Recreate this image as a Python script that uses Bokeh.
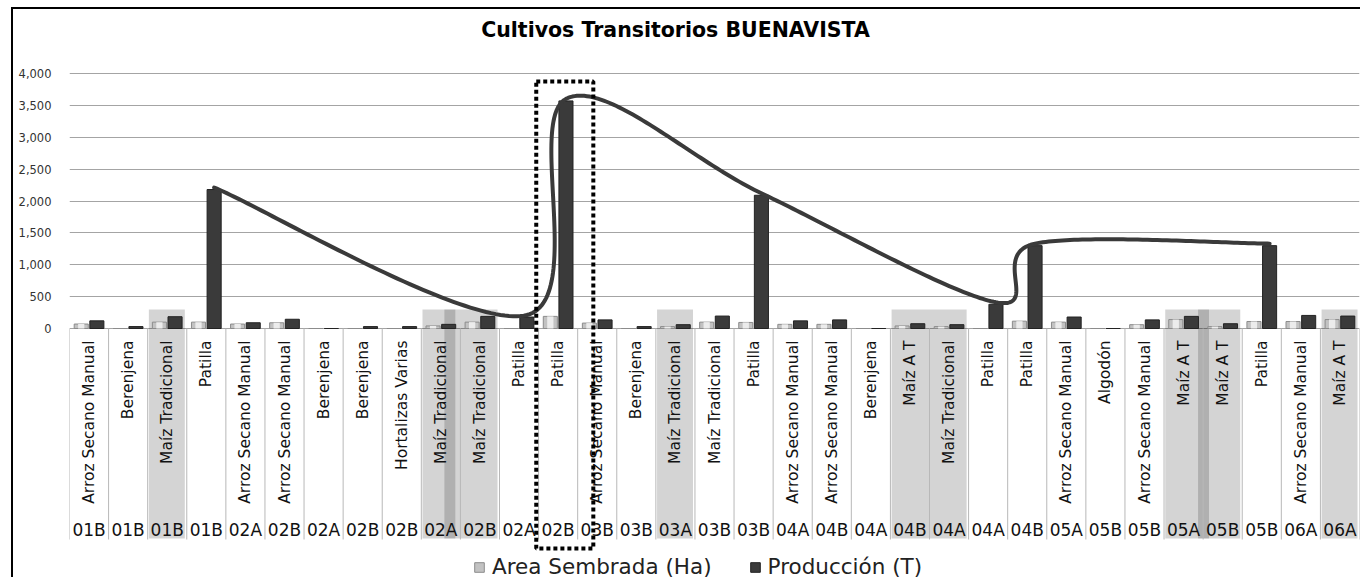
import numpy as np
from bokeh.plotting import figure
from bokeh.models import (Range1d, FixedTicker, NumeralTickFormatter, Legend, LegendItem,
                          Label, BoxAnnotation, ColumnDataSource)
from bokeh.core.properties import value
from bokeh.embed import file_html
from bokeh.resources import INLINE

# ---------------- data ----------------
periods = ["01B", "01B", "01B", "01B", "02A", "02B", "02A", "02B", "02B", "02A", "02B",
           "02A", "02B", "03B", "03B", "03A", "03B", "03B", "04A", "04B", "04A", "04B",
           "04A", "04A", "04B", "05A", "05B", "05B", "05A", "05B", "05B", "06A", "06A"]
crops = ["Arroz Secano Manual", "Berenjena", "Maíz Tradicional", "Patilla",
         "Arroz Secano Manual", "Arroz Secano Manual", "Berenjena", "Berenjena",
         "Hortalizas Varias", "Maíz Tradicional", "Maíz Tradicional", "Patilla", "Patilla",
         "Arroz Secano Manual", "Berenjena", "Maíz Tradicional", "Maíz Tradicional", "Patilla",
         "Arroz Secano Manual", "Arroz Secano Manual", "Berenjena", "Maíz A T",
         "Maíz Tradicional", "Patilla", "Patilla", "Arroz Secano Manual", "Algodón",
         "Arroz Secano Manual", "Maíz A T", "Maíz A T", "Patilla", "Arroz Secano Manual",
         "Maíz A T"]
area = [70, 0, 100, 100, 70, 90, 0, 0, 0, 40, 100, 0, 190, 85, 0, 30, 100, 95, 65, 65, 0,
        40, 30, 0, 115, 100, 0, 60, 140, 30, 110, 110, 140]
prod = [120, 30, 185, 2180, 90, 145, 0, 30, 30, 65, 190, 180, 3570, 135, 30, 60, 195, 2090,
        120, 135, 0, 75, 60, 380, 1300, 180, 0, 135, 190, 75, 1300, 205, 195]
y_ticks = [0, 500, 1000, 1500, 2000, 2500, 3000, 3500, 4000]
highlight_groups = [(2, 2), (9, 10), (15, 15), (21, 22), (28, 29), (32, 32)]
overlap_strips = [9.23, 28.51]
boxed_category = 12
curve_crop = "Patilla"

# ---------------- layout helpers (page pixel -> data) ----------------
PX_ZERO, PX_TOP_TICK = 328, 73
K = 4000 / (PX_ZERO - PX_TOP_TICK)          # data units per pixel
def y_of(px):
    return (PX_ZERO - px) * K

n = len(crops)
idx = list(range(n))
CW = 1290 / n
def x_of(px):
    return (px - 69) / CW - 0.5

FONT = "DejaVu Sans"
ML, MT = 11, 7          # outer frame position
CANVAS_X0, CANVAS_Y0 = ML + 2, MT + 2
W, H = 1362 - CANVAS_X0, 579 - CANVAS_Y0

p = figure(width=W, height=H, output_backend="svg", toolbar_location=None,
           x_range=Range1d(-0.5, n - 0.5), y_range=Range1d(y_of(579), y_of(CANVAS_Y0)),
           min_border_left=69 - CANVAS_X0, min_border_right=1362 - 1359,
           min_border_top=0, min_border_bottom=0)
p.styles = {"margin-left": f"{ML}px", "margin-top": f"{MT}px",
            "border-left": "2px solid #000", "border-top": "2px solid #000"}
p.outline_line_color = None
p.background_fill_color = "white"
p.border_fill_color = "white"
p.xaxis.visible = False
p.xgrid.visible = False

ya = p.yaxis[0]
ya.ticker = FixedTicker(ticks=y_ticks)
ya.formatter = NumeralTickFormatter(format="0,0")
ya.axis_line_color = None
ya.major_tick_line_color = None
ya.minor_tick_line_color = None
ya.major_label_standoff = 12
ya.major_label_text_font = FONT
ya.major_label_text_font_size = "11.5px"
ya.major_label_text_color = "#333333"
p.ygrid.ticker = FixedTicker(ticks=y_ticks)
p.ygrid.grid_line_color = "#a4a4a4"
p.ygrid.grid_line_width = 1

# highlight shading behind labels
hl_left = [a - 0.47 for a, b in highlight_groups]
hl_right = [b + 0.45 for a, b in highlight_groups]
p.quad(left=hl_left, right=hl_right, top=y_of(309), bottom=y_of(538),
       fill_color="black", fill_alpha=0.17, line_color=None)
p.quad(left=[s - 0.14 for s in overlap_strips], right=[s + 0.14 for s in overlap_strips],
       top=y_of(309), bottom=y_of(538), fill_color="black", fill_alpha=0.17, line_color=None)

# category separators
seps = [i - 0.5 for i in range(n + 1)]
p.segment(x0=seps, x1=seps, y0=0, y1=y_of(539), line_color="#b8b8b8", line_width=1)

# bars
src = ColumnDataSource(dict(x=idx, xa=[i - 0.2 for i in idx], xp=[i + 0.2 for i in idx],
                            area=area, prod=prod, crop=crops, period=periods))
r_area = p.vbar(x="xa", top="area", bottom=0, width=0.36, source=src,
                fill_color="#c2c2c2", line_color="#8c8c8c", line_width=1)
p.vbar(x="xa", top="area", bottom=0, width=0.16, source=src,
       fill_color="#ececec", line_color=None)
r_prod = p.vbar(x="xp", top="prod", bottom=0, width=0.36, source=src,
                fill_color="#3a3a3a", line_color="#222222", line_width=1)

# category labels
p.text(x="x", y=y_of(340), text="crop", source=src, angle=np.pi / 2,
       text_align="right", text_baseline="middle", text_font=value(FONT),
       text_font_size="15.5px", text_color="#111111")
p.text(x="x", y=y_of(529), text="period", source=src,
       text_align="center", text_baseline="middle", text_font=value(FONT),
       text_font_size="17px", text_color="#111111")

# smoothed curve through the Patilla production values (Catmull-Rom / Excel style),
# lifted by half the line width so it rests on the bar tops
lift = 2 * K
pts = np.array([[i + 0.2, prod[i] + lift] for i in idx if crops[i] == curve_crop], dtype=float)
cx, cy = [], []
t = np.linspace(0, 1, 60)
for i in range(len(pts) - 1):
    p0 = pts[i - 1] if i > 0 else pts[i]
    p1, p2 = pts[i], pts[i + 1]
    p3 = pts[i + 2] if i + 2 < len(pts) else pts[i + 1]
    c1 = p1 + (p2 - p0) / 6
    c2 = p2 - (p3 - p1) / 6
    b = ((1 - t) ** 3)[:, None] * p1 + (3 * (1 - t) ** 2 * t)[:, None] * c1 + \
        (3 * (1 - t) * t ** 2)[:, None] * c2 + (t ** 3)[:, None] * p2
    cx.extend(b[:, 0].tolist())
    cy.extend(b[:, 1].tolist())
p.line(cx, cy, line_color="#3a3a3a", line_width=4, line_cap="round", line_join="round")

# dotted box around the highlighted category
p.add_layout(BoxAnnotation(left=boxed_category - 0.56, right=boxed_category + 0.90,
                           top=y_of(81), bottom=y_of(548), fill_alpha=0,
                           line_color="black", line_alpha=1.0, line_width=4,
                           line_dash="4 3"))

# title
p.add_layout(Label(x=x_of(675), y=y_of(29), text="Cultivos Transitorios BUENAVISTA",
                   text_align="center", text_baseline="middle", text_font=FONT,
                   text_font_style="bold", text_font_size="20.5px", text_color="#000000"))

# legend
legend = Legend(items=[LegendItem(label="Area Sembrada (Ha)", renderers=[r_area]),
                       LegendItem(label="Producción (T)", renderers=[r_prod])],
                orientation="horizontal", location=(473 - 69, 0))
legend.label_text_font = FONT
legend.label_text_font_size = "21.5px"
legend.label_text_color = "#222222"
legend.glyph_width = 12
legend.glyph_height = 12
legend.label_standoff = 7
legend.spacing = 37
legend.padding = 0
legend.margin = 0
legend.border_line_color = None
legend.background_fill_alpha = 0
p.add_layout(legend)

open("out.html", "w").write(file_html(p, INLINE))
